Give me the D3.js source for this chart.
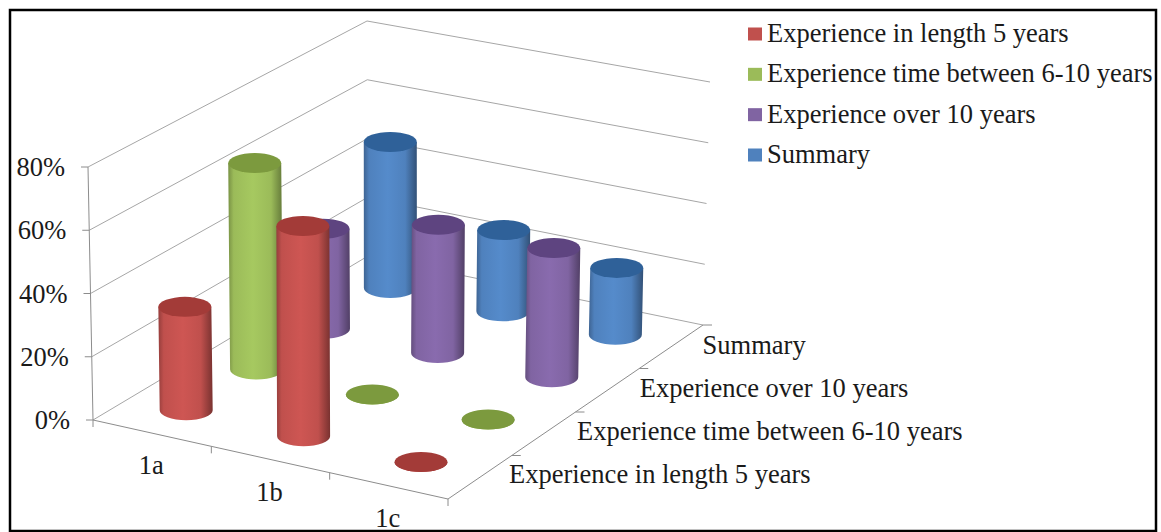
<!DOCTYPE html>
<html>
<head>
<meta charset="utf-8">
<script src="https://cdn.jsdelivr.net/npm/d3@7"></script>
<style>
  html, body { margin: 0; padding: 0; background: #fff; }
  svg { display: block; }
  text { font-family: "Liberation Serif", serif; fill: #1a1a1a; }
</style>
</head>
<body>
<svg id="chart" width="1161" height="532"></svg>
<script>
// Experience groups by question, in percent
const categories = ["1a", "1b", "1c"];
const seriesNames = [
  "Experience in length 5 years",
  "Experience time between 6-10 years",
  "Experience over 10 years",
  "Summary"
];
const lengthFiveValues = [33, 67, 0];
const sixToTenValues = [67, 0, 0];
const overTenValues = [33, 42, 42];
const summaryValues = [49, 27, 22];
const valueTicks = [0, 20, 40, 60, 80];
const sideColors = ["#c0504d", "#9bbb59", "#8064a2", "#4f81bd"];
const capColors = ["#a33b38", "#7c9a3e", "#5e4480", "#2f6199"];

const allValues = [lengthFiveValues, sixToTenValues, overTenValues, summaryValues];

const svg = d3.select("#chart");
const defs = svg.append("defs");

// Corners of the 3D box: floor and the plane at the top of the value axis
const floor = { fl: [93, 420], fr: [448, 499], br: [703, 325], bl: [368, 256] };
const roof = { fl: [88, 167], fr: [450, 246], br: [710, 82], bl: [367, 21] };

const uScale = d3.scaleBand().domain(categories).range([0, 1]);
const vScale = d3.scaleBand().domain(seriesNames).range([0.015, 1]);
const valueScale = d3.scaleLinear().domain([0, 80]).range([0, 1]);
// Perspective pulls the nearest row slightly further left than the box corners alone give
const rowShift = d3.scaleOrdinal().domain(seriesNames).range([-3.5, 0, 0, 0]);

function bilinear(c, u, v) {
  const fx = d3.interpolateNumber(c.fl[0], c.fr[0])(u);
  const fy = d3.interpolateNumber(c.fl[1], c.fr[1])(u);
  const bx = d3.interpolateNumber(c.bl[0], c.br[0])(u);
  const by = d3.interpolateNumber(c.bl[1], c.br[1])(u);
  return [fx + (bx - fx) * v, fy + (by - fy) * v];
}

// Maps (category position, series position, value) to the screen
function project(u, v, value) {
  const a = bilinear(floor, u, v), b = bilinear(roof, u, v), t = valueScale(value);
  return [a[0] + (b[0] - a[0]) * t, a[1] + (b[1] - a[1]) * t];
}

const line = d3.line();

// Frame around the whole figure
svg.append("rect")
  .attr("x", 10).attr("y", 10)
  .attr("width", 1146).attr("height", 521)
  .attr("fill", "#fff").attr("stroke", "#000").attr("stroke-width", 2.5);

// Wall gridlines, running along the left wall and then the back wall
const grid = svg.append("g").attr("fill", "none").attr("stroke", "#a6a6a6").attr("stroke-width", 1);
grid.selectAll("path.wall").data(valueTicks).join("path")
  .attr("class", "wall")
  .attr("d", d => line([project(0, 0, d), project(0, 1, d), project(1, 1, d)]));

// Axis lines along the front and right floor edges and up the left side
const axes = svg.append("g").attr("fill", "none").attr("stroke", "#8c8c8c").attr("stroke-width", 1);
axes.append("path").attr("d", line([project(0, 0, 80), project(0, 0, 0), project(1, 0, 0), project(1, 1, 0)]));

axes.selectAll("path.vtick").data(valueTicks).join("path")
  .attr("class", "vtick")
  .attr("d", d => { const p = project(0, 0, d); return line([[p[0] - 7, p[1]], p]); });

const catEdges = d3.range(categories.length + 1).map(i => i * uScale.step());
axes.selectAll("path.ctick").data(catEdges).join("path")
  .attr("class", "ctick")
  .attr("d", u => { const p = project(u, 0, 0); return line([p, [p[0], p[1] + 7]]); });

const seriesEdges = d3.range(1, seriesNames.length + 1).map(i => i / seriesNames.length);
axes.selectAll("path.stick").data(seriesEdges).join("path")
  .attr("class", "stick")
  .attr("d", v => { const p = project(1, v, 0); return line([p, [p[0] + 9, p[1]]]); });

// Cylinder side shading, one gradient per series
seriesNames.forEach((name, i) => {
  const base = d3.color(sideColors[i]);
  const g = defs.append("linearGradient").attr("id", "side" + i)
    .attr("x1", 0).attr("x2", 1).attr("y1", 0).attr("y2", 0);
  [[0, base.darker(0.7)], [0.1, base], [0.45, base.brighter(0.2)], [0.78, base], [1, base.darker(1.3)]]
    .forEach(([o, c]) => g.append("stop").attr("offset", o).attr("stop-color", c.formatHex()));
});

// Back rows first so nearer cylinders cover them
const marks = [];
seriesNames.forEach((name, s) => categories.forEach((cat, c) => {
  marks.push({ s, c, cat, name, value: allValues[s][c] });
}));
marks.sort((a, b) => d3.descending(a.s, b.s) || d3.ascending(a.c, b.c));

const rx = 26.5, ry = 10;
const cyl = svg.append("g").selectAll("g").data(marks).join("g");
cyl.each(function (d) {
  const u = uScale(d.cat) + uScale.bandwidth() / 2;
  const v = vScale(d.name) + vScale.bandwidth() / 2;
  const dx = rowShift(d.name);
  const b = project(u, v, 0), t = project(u, v, d.value);
  b[0] += dx; t[0] += dx;
  const g = d3.select(this);
  g.append("path")
    .attr("fill", `url(#side${d.s})`)
    .attr("d", `M${t[0] - rx},${t[1]}L${b[0] - rx},${b[1]}A${rx},${ry} 0 0 0 ${b[0] + rx},${b[1]}L${t[0] + rx},${t[1]}Z`);
  g.append("ellipse")
    .attr("cx", t[0]).attr("cy", t[1]).attr("rx", rx).attr("ry", ry)
    .attr("fill", capColors[d.s]);
});

// Value axis labels
const fs = 26.5;
svg.append("g").selectAll("text").data(valueTicks).join("text")
  .attr("x", d => project(0, 0, d)[0] - 23)
  .attr("y", d => project(0, 0, d)[1] + 9)
  .attr("text-anchor", "end")
  .attr("font-size", fs)
  .text(d => d + "%");

// Category labels below the front edge
svg.append("g").selectAll("text").data(categories).join("text")
  .attr("x", d => project(uScale(d) + uScale.bandwidth() / 2, 0, 0)[0] - 1)
  .attr("y", d => project(uScale(d) + uScale.bandwidth() / 2, 0, 0)[1] + 41)
  .attr("text-anchor", "middle")
  .attr("font-size", fs)
  .text(d => d);

// Series labels beside the right floor edge
svg.append("g").selectAll("text").data(seriesNames).join("text")
  .attr("x", d => project(1, vScale(d) + vScale.bandwidth() / 2, 0)[0] + 31 + rowShift(d) * 1.5)
  .attr("y", d => project(1, vScale(d) + vScale.bandwidth() / 2, 0)[1] + 8)
  .attr("font-size", fs)
  .text(d => d);

// Legend in the top right corner
const legendY = d3.scalePoint().domain(seriesNames).range([34, 155]);
const legend = svg.append("g").selectAll("g").data(seriesNames).join("g")
  .attr("transform", d => `translate(748,${legendY(d)})`);
legend.append("rect")
  .attr("y", -6.5).attr("width", 14).attr("height", 13)
  .attr("fill", (d, i) => sideColors[i]);
legend.append("text")
  .attr("x", 19).attr("y", 8)
  .attr("font-size", fs)
  .text(d => d);
</script>
</body>
</html>
